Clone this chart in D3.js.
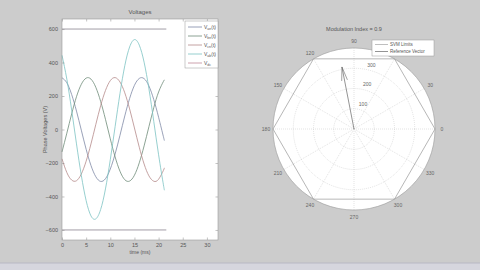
<!DOCTYPE html>
<html>
<head>
<meta charset="utf-8">
<script src="https://cdn.jsdelivr.net/npm/d3@7"></script>
<style>
  body { margin: 0; background: #cccccc; }
  svg { display: block; font-family: "Liberation Sans", Arial, sans-serif; }
  .tick text { fill: #555; font-size: 5.5px; }
  .tick line { stroke: #888; }
</style>
</head>
<body>
<svg id="chart" width="480" height="270"></svg>
<script>
// time samples (ms) and voltages
const timeMs = [0, 1, 2, 3, 4, 5, 6, 7, 8, 9, 10, 11, 12, 13, 14, 15, 16, 17, 18, 19, 20, 21, 21.2];
const vAn = [309, 279, 209, 110, -4, -118, -215, -282, -310, -294, -236, -146, -35, 81, 185, 264, 305, 304, 260, 179, 73, -43, -66];
const vBn = [-134, -22, 93, 196, 270, 307, 301, 252, 168, 61, -56, -164, -249, -300, -308, -273, -199, -98, 17, 130, 224, 287, 295];
const vCn = [-175, -257, -302, -306, -266, -189, -86, 30, 142, 233, 292, 310, 284, 219, 123, 9, -106, -206, -277, -309, -297, -244, -229];
const vAb = [443, 301, 116, -86, -274, -425, -516, -534, -478, -355, -180, 18, 214, 381, 493, 537, 504, 402, 243, 49, -151, -330, -361];
const vdcLevels = [600, -600];
const vdcSpan = [0, 21.6];

const xTicks = [0, 5, 10, 15, 20, 25, 30];
const yTicks = [-600, -400, -200, 0, 200, 400, 600];

const seriesNames = [["V", "an", "(t)"], ["V", "bn", "(t)"], ["V", "cn", "(t)"], ["V", "ab", "(t)"], ["V", "dc", ""]];
const seriesColors = ["#7f89a6", "#6f8c78", "#b58a8a", "#7cc3c3", "#b08fb0"];

// polar panel
const rMax = 400;
const ringValues = [100, 200, 300];
const spokeAngles = [0, 30, 60, 90, 120, 150, 180, 210, 240, 270, 300, 330];
const hiddenAngleLabels = [60]; // covered by the legend in the picture
const hexAngles = [0, 60, 120, 180, 240, 300, 360];
const svmRadius = 400;
const refMag = 312;
const refAngleDeg = 101;
const modIndex = 0.9;

const svg = d3.select("#chart");

// bottom strip
svg.append("rect").attr("x", 0).attr("y", 263).attr("width", 480).attr("height", 7).attr("fill", "#d6d6de");
svg.append("line").attr("x1", 0).attr("x2", 480).attr("y1", 263).attr("y2", 263).attr("stroke", "#b8b8c4");

// ---- left: voltages ----
const left = {x0: 62, x1: 218, y0: 19, y1: 240};

const x = d3.scaleLinear().domain([0, 32.3]).range([left.x0, left.x1]);
const y = d3.scaleLinear().domain([-660, 660]).range([left.y1, left.y0]);

const gL = svg.append("g");

gL.append("rect")
    .attr("x", left.x0).attr("y", left.y0)
    .attr("width", left.x1 - left.x0).attr("height", left.y1 - left.y0)
    .attr("fill", "white");

const line = d3.line()
    .x((d, i) => x(timeMs[i]))
    .y(d => y(d))
    .curve(d3.curveNatural);

[vAn, vBn, vCn, vAb].forEach((s, k) => {
    gL.append("path")
        .datum(s)
        .attr("fill", "none")
        .attr("stroke", seriesColors[k])
        .attr("stroke-width", 0.8)
        .attr("d", line);
});

vdcLevels.forEach(v => {
    gL.append("line")
        .attr("x1", x(vdcSpan[0])).attr("x2", x(vdcSpan[1]))
        .attr("y1", y(v)).attr("y2", y(v))
        .attr("stroke", "#8a8490")
        .attr("stroke-width", 0.8);
});

function styleAxis(g) {
    g.select(".domain").remove();
    g.selectAll(".tick line").attr("stroke", "#999").attr("stroke-width", 0.5);
}

gL.append("g").attr("transform", `translate(0,${left.y1})`)
    .call(d3.axisBottom(x).tickValues(xTicks).tickSize(-2.5).tickPadding(3))
    .call(styleAxis);
gL.append("g").attr("transform", `translate(0,${left.y0})`)
    .call(d3.axisTop(x).tickValues(xTicks).tickSize(-2.5).tickFormat(""))
    .call(styleAxis);
gL.append("g").attr("transform", `translate(${left.x0},0)`)
    .call(d3.axisLeft(y).tickValues(yTicks).tickSize(-2.5).tickPadding(4))
    .call(styleAxis);
gL.append("g").attr("transform", `translate(${left.x1},0)`)
    .call(d3.axisRight(y).tickValues(yTicks).tickSize(-2.5).tickFormat(""))
    .call(styleAxis);

gL.append("rect")
    .attr("x", left.x0).attr("y", left.y0)
    .attr("width", left.x1 - left.x0).attr("height", left.y1 - left.y0)
    .attr("fill", "none").attr("stroke", "#999").attr("stroke-width", 0.6);

gL.append("text").attr("x", (left.x0 + left.x1) / 2).attr("y", 14)
    .attr("text-anchor", "middle").attr("font-size", 6).attr("fill", "#555").text("Voltages");
gL.append("text").attr("x", (left.x0 + left.x1) / 2).attr("y", 254)
    .attr("text-anchor", "middle").attr("font-size", 5).attr("fill", "#555").text("time (ms)");
gL.append("text")
    .attr("transform", `translate(47,${(left.y0 + left.y1) / 2}) rotate(-90)`)
    .attr("text-anchor", "middle").attr("font-size", 5.5).attr("fill", "#555").text("Phase Voltages (V)");

// legend
const leg = gL.append("g");
leg.append("rect").attr("x", 185).attr("y", 21).attr("width", 33).attr("height", 47)
    .attr("fill", "white").attr("stroke", "#999").attr("stroke-width", 0.5);
seriesNames.forEach((n, i) => {
    const ly = 27 + i * 9;
    leg.append("line").attr("x1", 188).attr("x2", 202).attr("y1", ly).attr("y2", ly)
        .attr("stroke", i < 4 ? seriesColors[i] : "#c08a9a").attr("stroke-width", 0.8);
    const t = leg.append("text").attr("x", 204).attr("y", ly + 1.5)
        .attr("font-size", 5).attr("fill", "#555");
    t.append("tspan").text(n[0]);
    t.append("tspan").attr("font-size", 3.5).attr("dy", 1.2).text(n[1]);
    t.append("tspan").attr("dy", -1.2).text(n[2]);
});

// ---- right: polar ----
const cx = 354, cy = 129;
const r = d3.scaleLinear().domain([0, rMax]).range([0, 81]);
const gP = svg.append("g").attr("transform", `translate(${cx},${cy})`);
const rad = a => a * Math.PI / 180;

gP.append("circle").attr("r", r(rMax)).attr("fill", "white");

ringValues.forEach(v => {
    gP.append("circle").attr("r", r(v)).attr("fill", "none")
        .attr("stroke", "#c4c4c4").attr("stroke-width", 0.5).attr("stroke-dasharray", "1,1");
});
spokeAngles.forEach(a => {
    gP.append("line")
        .attr("x1", 0).attr("y1", 0)
        .attr("x2", r(rMax) * Math.cos(rad(a))).attr("y2", -r(rMax) * Math.sin(rad(a)))
        .attr("stroke", "#c4c4c4").attr("stroke-width", 0.5).attr("stroke-dasharray", "1,1");
});
gP.append("circle").attr("r", r(rMax)).attr("fill", "none")
    .attr("stroke", "#999").attr("stroke-width", 0.6);

// SVM hexagon
const radial = d3.lineRadial()
    .angle(a => Math.PI / 2 - rad(a))
    .radius(() => r(svmRadius));
gP.append("path").datum(hexAngles).attr("d", radial)
    .attr("fill", "none").attr("stroke", "#a4a4a4").attr("stroke-width", 0.8);

// reference vector with arrow head
const tipX = r(refMag) * Math.cos(rad(refAngleDeg)), tipY = -r(refMag) * Math.sin(rad(refAngleDeg));
gP.append("line").attr("x1", 0).attr("y1", 0).attr("x2", tipX).attr("y2", tipY)
    .attr("stroke", "#666").attr("stroke-width", 0.7);
[refAngleDeg + 180 - 12, refAngleDeg + 180 + 12].forEach(a => {
    gP.append("line").attr("x1", tipX).attr("y1", tipY)
        .attr("x2", tipX + 14 * Math.cos(rad(a))).attr("y2", tipY - 14 * Math.sin(rad(a)))
        .attr("stroke", "#666").attr("stroke-width", 0.6);
});

// radial labels
ringValues.forEach(v => {
    gP.append("text")
        .attr("x", (r(v) + 3) * Math.cos(rad(78))).attr("y", -(r(v) + 3) * Math.sin(rad(78)))
        .attr("font-size", 5).attr("fill", "#666").attr("text-anchor", "start").text(v);
});
// angle labels
spokeAngles.filter(a => !hiddenAngleLabels.includes(a)).forEach(a => {
    gP.append("text")
        .attr("x", 88 * Math.cos(rad(a))).attr("y", -88 * Math.sin(rad(a)) + 2)
        .attr("font-size", 5).attr("fill", "#666").attr("text-anchor", "middle").text(a);
});

gP.append("text").attr("x", 0).attr("y", 31 - cy)
    .attr("text-anchor", "middle").attr("font-size", 5.5).attr("fill", "#555")
    .text("Modulation Index = " + modIndex);

// polar legend
const pl = svg.append("g");
pl.append("rect").attr("x", 372).attr("y", 40).attr("width", 62).attr("height", 16)
    .attr("fill", "white").attr("stroke", "#999").attr("stroke-width", 0.5);
[["SVM Limits", "#a4a4a4"], ["Reference Vector", "#666"]].forEach((d, i) => {
    const ly = 44.5 + i * 7;
    pl.append("line").attr("x1", 375).attr("x2", 388).attr("y1", ly).attr("y2", ly)
        .attr("stroke", d[1]).attr("stroke-width", 0.7);
    pl.append("text").attr("x", 390).attr("y", ly + 1.6).attr("font-size", 4.5).attr("fill", "#555").text(d[0]);
});
</script>
</body>
</html>
